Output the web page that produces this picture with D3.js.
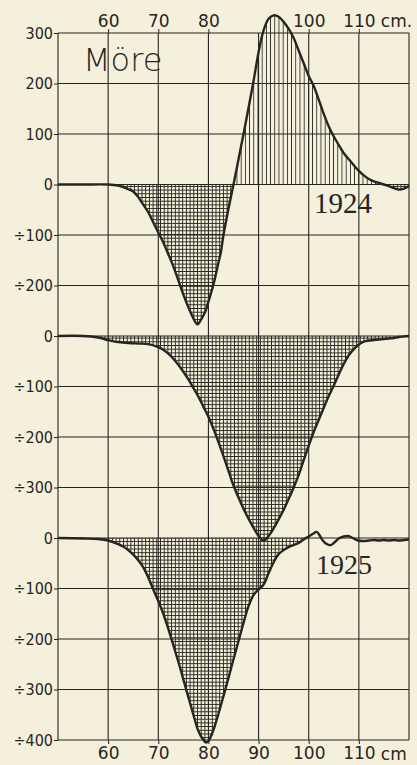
<!DOCTYPE html>
<html><head><meta charset="utf-8">
<script src="https://cdn.jsdelivr.net/npm/d3@7"></script>
<style>html,body{margin:0;padding:0;background:#f5f0dc;} svg{display:block}</style>
</head><body><svg id="c" width="417" height="765"></svg>
<script>
// ---- data ----
const xTicks = [60, 70, 80, 90, 100, 110];
const xTopLabels = [60, 70, 80, 100, 110];
const unitTop = "cm.";
const unitBottom = "cm";
const title = "Möre";

const x1924 = [50,55,60,62,63,64,65,66,67,68,69,70,71,72,73,74,75,76,77,77.8,78.5,79.4,80,81,82,82.5,83,84,85,86,87,88,89,90,91,92,93,94,95,96,97,98,99,100,101,102,103,104,105,106,107,108,109,110,111,112,113,114,115,116,117,118,119,120];
const v1924 = [0,0,0,-2,-5,-9,-14,-25,-40,-55,-75,-95,-115,-138,-162,-190,-218,-243,-265,-277,-268,-251,-232,-198,-155,-133,-100,-48,0,50,100,152,205,262,305,328,335,332,322,308,290,265,240,215,195,168,140,115,95,78,62,50,38,27,18,11,6,3,0,-3,-7,-10,-8,-3];

const xMid = [50,55,58,60,62,64,66,68,70,71,72,73,74,75,76,77,78,79,80,81,82,83,84,85,86,87,88,89,90,91,92,93,94,95,96,97,98,99,100,101,102,103,104,105,106,107,108,109,110,111,112,113,114,115,116,117,118,119,120];
const vMid = [0,0,-3,-8,-12,-14,-15,-16,-22,-27,-35,-45,-57,-71,-86,-103,-120,-140,-160,-184,-210,-238,-267,-296,-320,-342,-362,-380,-396,-405,-396,-381,-363,-344,-323,-300,-275,-246,-217,-190,-166,-142,-119,-98,-76,-55,-38,-26,-17,-11,-9,-8,-7,-6,-5,-4,-2,-1,0];

const x1925 = [50,55,58,60,62,63,64,65,66,67,68,69,70,71,72,73,74,75,76,77,78,79,79.5,80,81,82,83,84,85,86,87,88,89,90,91,92,93,94,95,96,97,98,99,100,100.8,101.6,102.2,102.8,103.6,104.4,105.2,106,107,107.8,108.6,109.8,111,112,113,114,115,116,117,118,119,120];
const v1925 = [0,-1,-2,-5,-12,-17,-24,-33,-44,-58,-78,-102,-125,-150,-180,-212,-245,-280,-315,-350,-382,-400,-405,-402,-380,-348,-313,-277,-240,-204,-168,-135,-113,-102,-92,-70,-48,-32,-24,-18,-14,-10,-3,3,8,12,5,-5,-12,-14,-8,-1,3,4,1,-5,-6,-5,-4,-5,-4,-5,-4,-5,-4,-3];

const ticksTop = [300,200,100,0,-100,-200];
const ticksMid = [0,-100,-200,-300];
const ticksBot = [0,-100,-200,-300,-400];

// ---- layout ----
const svg = d3.select("#c");
const ink = "#26251f";
const x = d3.scaleLinear().domain([50,120]).range([58,409]);

const panels = [
  {key:"p1924", xs:x1924, vs:v1924, y:d3.scaleLinear().domain([300,-300]).range([33,336]), ticks:ticksTop, pos:true, fillMax:120},
  {key:"pmid", xs:xMid, vs:vMid, y:d3.scaleLinear().domain([0,-400]).range([336,538]), ticks:ticksMid, pos:false, fillMax:120},
  {key:"p1925", xs:x1925, vs:v1925, y:d3.scaleLinear().domain([0,-400]).range([538,740]), ticks:ticksBot, pos:false, fillMax:99.5}
];

const defs = svg.append("defs");
const vh = defs.append("pattern").attr("id","vh").attr("patternUnits","userSpaceOnUse")
  .attr("width",4.2).attr("height",10).attr("x",0.5);
vh.append("line").attr("x1",1).attr("x2",1).attr("y1",0).attr("y2",10).attr("stroke",ink).attr("stroke-width",1)
  .attr("shape-rendering","crispEdges");
const ch = defs.append("pattern").attr("id","ch").attr("patternUnits","userSpaceOnUse")
  .attr("width",3.7).attr("height",3.7);
ch.append("line").attr("x1",1).attr("x2",1).attr("y1",0).attr("y2",3.7).attr("stroke",ink).attr("stroke-width",1)
  .attr("shape-rendering","crispEdges");
ch.append("line").attr("x1",0).attr("x2",3.7).attr("y1",1).attr("y2",1).attr("stroke",ink).attr("stroke-width",1)
  .attr("shape-rendering","crispEdges");

const yTop = panels[0].y(300), yBot = panels[2].y(-400);

// fills
panels.forEach(p => {
  const pts = p.xs.map((d,i)=>[d,p.vs[i]]);
  const area = d3.area().x(d=>x(d[0])).y0(p.y(0)).y1(d=>p.y(d[1])).curve(d3.curveCatmullRom.alpha(0.5));
  defs.append("clipPath").attr("id",p.key+"neg").append("rect")
    .attr("x",x(50)).attr("y",p.y(0)).attr("width",x(p.fillMax)-x(50)).attr("height",220);
  svg.append("path").datum(pts).attr("d",area).attr("fill","url(#ch)").attr("clip-path",`url(#${p.key}neg)`);
  if (p.pos) {
    defs.append("clipPath").attr("id",p.key+"pos").append("rect")
      .attr("x",x(50)).attr("y",0).attr("width",x(120)-x(50)).attr("height",p.y(0));
    svg.append("path").datum(pts).attr("d",area).attr("fill","url(#vh)").attr("clip-path",`url(#${p.key}pos)`);
  }
});

// grid
const grid = svg.append("g").attr("stroke",ink).attr("stroke-width",1.1).attr("fill","none");
[50,...xTicks,120].forEach(v => grid.append("line").attr("x1",x(v)).attr("x2",x(v)).attr("y1",yTop).attr("y2",yBot));
panels.forEach(p => p.ticks.forEach(t => grid.append("line").attr("x1",x(50)).attr("x2",x(120)).attr("y1",p.y(t)).attr("y2",p.y(t))));

// y axes
const fmtY = v => v < 0 ? "÷" + (-v) : String(v);
panels.forEach(p => {
  const ax = d3.axisLeft(p.y).tickValues(p.ticks).tickFormat(fmtY).tickSize(4).tickPadding(1);
  const g = svg.append("g").attr("transform",`translate(${x(50)},0)`).call(ax);
  g.select(".domain").remove();
  g.selectAll("line").attr("stroke",ink);
  g.selectAll("text").attr("fill",ink).style("font-family","'DejaVu Sans Condensed','DejaVu Sans',sans-serif")
    .style("font-stretch","condensed").style("font-size","16px");
});

// x axes
const xFont = "'DejaVu Sans',sans-serif";
const axT = d3.axisTop(x).tickValues(xTopLabels).tickSize(4).tickPadding(2).tickFormat(d3.format("d"));
const gT = svg.append("g").attr("transform",`translate(0,${yTop})`).call(axT);
gT.select(".domain").remove();
gT.selectAll("line").attr("stroke",ink);
gT.selectAll("text").attr("fill",ink).style("font-family",xFont).style("font-size","17px");
svg.append("text").attr("x",x(110)+22).attr("y",yTop-6).text(unitTop)
  .attr("fill",ink).style("font-family",xFont).style("font-size","17px");

const axB = d3.axisBottom(x).tickValues(xTicks).tickSize(4).tickPadding(3).tickFormat(d3.format("d"));
const gB = svg.append("g").attr("transform",`translate(0,${yBot})`).call(axB);
gB.select(".domain").remove();
gB.selectAll("line").attr("stroke",ink);
gB.selectAll("text").attr("fill",ink).style("font-family",xFont).style("font-size","17px");
svg.append("text").attr("x",x(110)+22).attr("y",yBot+20).text(unitBottom)
  .attr("fill",ink).style("font-family",xFont).style("font-size","17px");

// curves
panels.forEach(p => {
  const pts = p.xs.map((d,i)=>[d,p.vs[i]]);
  const line = d3.line().x(d=>x(d[0])).y(d=>p.y(d[1])).curve(d3.curveCatmullRom.alpha(0.5));
  svg.append("path").datum(pts).attr("d",line).attr("fill","none").attr("stroke",ink)
    .attr("stroke-width",2.4).attr("stroke-linejoin","round");
});

// labels
svg.append("text").attr("x",83).attr("y",71).text(title).attr("fill",ink)
  .style("font-family","'DejaVu Sans',sans-serif").style("font-weight","200").style("font-size","32px");
svg.append("text").attr("x",314).attr("y",panels[0].y(-56)).text("1924").attr("fill",ink)
  .style("font-family","'Liberation Serif',serif").style("font-size","29px");
svg.append("text").attr("x",316).attr("y",panels[2].y(-72)).text("1925").attr("fill",ink)
  .style("font-family","'Liberation Serif',serif").style("font-size","28px");
</script></body></html>
